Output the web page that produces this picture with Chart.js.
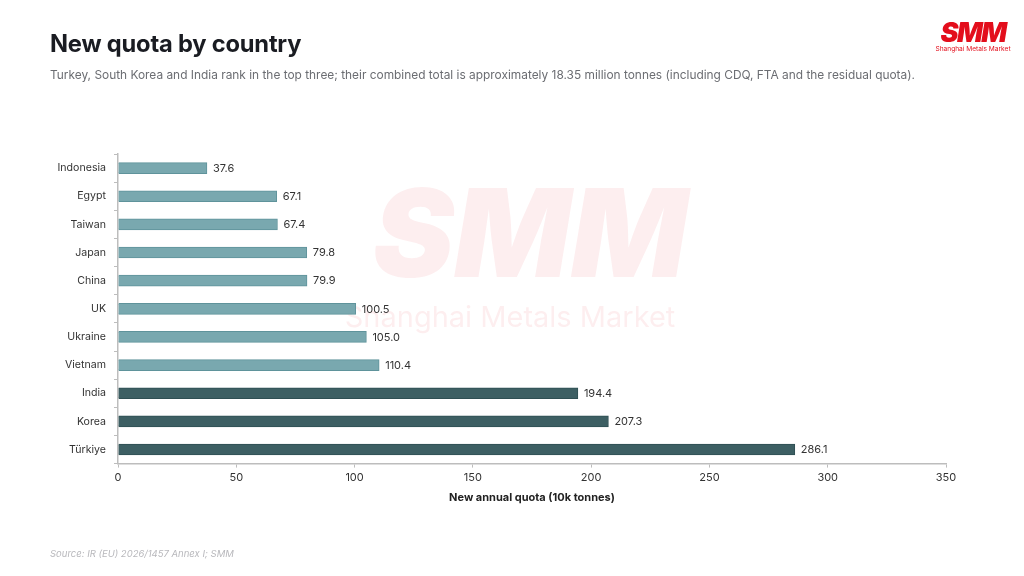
<!DOCTYPE html>
<html>
<head>
<meta charset="utf-8">
<script src="https://cdn.jsdelivr.net/npm/chart.js@4"></script>
<style>
  html, body { margin: 0; padding: 0; background: #fff; }
  body { width: 1024px; height: 576px; position: relative; overflow: hidden; font-family: Inter, "Noto Sans", sans-serif; }
  #wrap { position: absolute; left: 0; top: 0; width: 1024px; height: 576px; }
  h1 { position: absolute; left: 50px; top: 29px; margin: 0; font-size: 23.7px; font-weight: 700; color: #1a1c22; letter-spacing: -0.2px; }
  .sub { position: absolute; left: 50px; top: 67px; font-size: 11.9px; color: #6b6d72; }
  .src { position: absolute; left: 50px; top: 548px; font-size: 9.5px; font-style: italic; color: #b8b8bc; }
  .logo { position: absolute; left: 934px; top: 21px; width: 78px; text-align: center; color: #e30e1c; }
  .logo .big { font-size: 27px; font-weight: 900; font-style: italic; line-height: 24px; letter-spacing: -1.5px; }
  .logo .small { font-size: 6.6px; line-height: 9px; white-space: nowrap; }
</style>
</head>
<body>
<div id="wrap"><canvas id="chart" width="1024" height="576"></canvas></div>
<h1>New quota by country</h1>
<div class="sub">Turkey, South Korea and India rank in the top three; their combined total is approximately 18.35 million tonnes (including CDQ, FTA and the residual quota).</div>
<div class="src">Source: IR (EU) 2026/1457 Annex I; SMM</div>
<div class="logo"><div class="big">SMM</div><div class="small">Shanghai Metals Market</div></div>
<script>
const countries = ["Indonesia", "Egypt", "Taiwan", "Japan", "China", "UK", "Ukraine", "Vietnam", "India", "Korea", "Türkiye"];
const quota = [37.6, 67.1, 67.4, 79.8, 79.9, 100.5, 105.0, 110.4, 194.4, 207.3, 286.1];
const topThree = ["India", "Korea", "Türkiye"];

const light = "#79a8af", lightEdge = "#5f939b";
const dark = "#3d5f63", darkEdge = "#2f4f53";

const watermark = {
  id: "watermark",
  beforeDraw(chart) {
    const ctx = chart.ctx;
    ctx.save();
    ctx.fillStyle = "rgba(230,20,30,0.07)";
    ctx.textAlign = "center";
    ctx.textBaseline = "middle";
    ctx.font = "italic 900 122px Inter, sans-serif";
    ctx.fillText("SMM", 530, 240);
    ctx.font = "29px Inter, sans-serif";
    ctx.fillText("Shanghai Metals Market", 510, 318);
    ctx.restore();
  }
};

const valueLabels = {
  id: "valueLabels",
  afterDatasetsDraw(chart) {
    const ctx = chart.ctx;
    const meta = chart.getDatasetMeta(0);
    ctx.save();
    ctx.font = "11px Inter, sans-serif";
    ctx.fillStyle = "#333";
    ctx.textAlign = "left";
    ctx.textBaseline = "middle";
    meta.data.forEach((bar, i) => {
      ctx.fillText(quota[i].toFixed(1), bar.x + 6, bar.y + 0.5);
    });
    ctx.restore();
  }
};

new Chart(document.getElementById("chart"), {
  type: "bar",
  data: {
    labels: countries,
    datasets: [{
      data: quota,
      backgroundColor: countries.map(c => topThree.includes(c) ? dark : light),
      borderColor: countries.map(c => topThree.includes(c) ? darkEdge : lightEdge),
      borderWidth: 1,
      borderSkipped: "start",
      barThickness: 11
    }]
  },
  plugins: [watermark, valueLabels],
  options: {
    indexAxis: "y",
    responsive: false,
    animation: false,
    layout: { padding: { left: 0, right: 78, top: 154, bottom: 68 } },
    plugins: { legend: { display: false }, tooltip: { enabled: false } },
    scales: {
      x: {
        min: 0, max: 350,
        ticks: { stepSize: 50, color: "#333", font: { size: 11, family: "Inter, sans-serif" }, padding: 3 },
        grid: { drawOnChartArea: false, tickLength: 4, color: "#bdbdbd" },
        border: { color: "#bdbdbd", width: 1.5 },
        title: { display: true, text: "New annual quota (10k tonnes)", color: "#222",
          font: { size: 11, weight: "bold", family: "Inter, sans-serif" }, padding: { top: 4, bottom: 4 } }
      },
      y: {
        afterFit(s) { s.width = 118; },
        ticks: { color: "#333", font: { size: 10.6, family: "Inter, sans-serif" }, padding: 8 },
        grid: { drawOnChartArea: false, offset: true, tickLength: 4, color: "#bdbdbd" },
        border: { color: "#bdbdbd", width: 1.5 }
      }
    }
  }
});
</script>
</body>
</html>
